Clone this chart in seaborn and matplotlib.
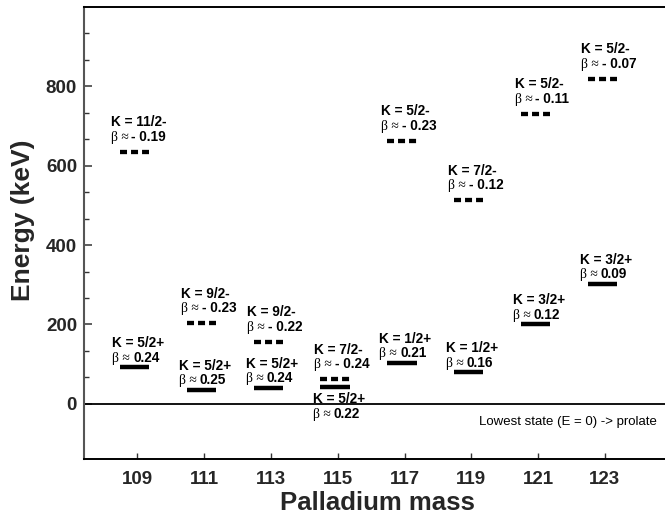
import matplotlib
matplotlib.use("Agg")
import matplotlib.pyplot as plt
import seaborn as sns
import numpy as np
import pandas as pd
from matplotlib.ticker import FixedLocator

# ---------------- data ----------------
masses = [109, 111, 113, 115, 117, 119, 121, 123]

neg_energy = [635, 203, 157, 62, 663, 513, 731, 819]
neg_K = ["11/2-", "9/2-", "9/2-", "7/2-", "5/2-", "7/2-", "5/2-", "5/2-"]
neg_beta = ["- 0.19", "- 0.23", "- 0.22", "- 0.24", "- 0.23", "- 0.12", "- 0.11", "- 0.07"]

pos_energy = [92, 35, 40, 42, 104, 80, 201, 302]
pos_K = ["5/2+", "5/2+", "5/2+", "5/2+", "1/2+", "1/2+", "3/2+", "3/2+"]
pos_beta = ["0.24", "0.25", "0.24", "0.22", "0.21", "0.16", "0.12", "0.09"]

y_major = [0, 200, 400, 600, 800]
note_text = "Lowest state (E = 0) -> prolate"

# ---------------- style ----------------
sns.set_theme(style="ticks")
plt.rcParams["font.family"] = ["Liberation Sans", "DejaVu Sans"]

W, H = 665, 516
fig = plt.figure(figsize=(W / 100, H / 100), dpi=100)
ax = fig.add_axes([84 / W, 1 - 459 / H, 1 - 84 / W + 0.01, (459 - 7) / H])

XOFF = -0.08      # bars sit slightly left of ticks
HW = 0.4394       # half bar width (data units)

neg = pd.DataFrame({"mass": masses, "E": neg_energy, "K": neg_K, "beta": neg_beta})
pos = pd.DataFrame({"mass": masses, "E": pos_energy, "K": pos_K, "beta": pos_beta})

ax.axhline(0, color="black", lw=1.3, zorder=1)

ax.hlines(neg["E"], neg["mass"] + XOFF - HW, neg["mass"] + XOFF + HW,
          colors="black", lw=3.1, linestyles=[(0, (1.63, 0.93))], zorder=3)
ax.hlines(pos["E"], pos["mass"] + XOFF - HW, pos["mass"] + XOFF + HW,
          colors="black", lw=3.2, linestyles="solid", zorder=3)

LINE = 14.5
KSIZE = 9.8
def put_label(xc, y, k, b, dy_k):
    kt = ax.annotate(f"K = {k}", xy=(xc, y), xytext=(3.5, dy_k),
                     textcoords="offset pixels", ha="center", va="baseline",
                     fontsize=KSIZE, fontweight="bold", color="black",
                     annotation_clip=False)
    bt = ax.annotate("β ≈", xy=(0, y), xycoords=(kt, "data"),
                     xytext=(0, dy_k - LINE), textcoords="offset pixels",
                     ha="left", va="baseline", fontsize=9.8,
                     family=["Liberation Serif", "DejaVu Serif"], color="black",
                     annotation_clip=False)
    ax.annotate(b, xy=(1, y), xycoords=(bt, "data"),
                xytext=(3, dy_k - LINE), textcoords="offset pixels",
                ha="left", va="baseline", fontsize=KSIZE, fontweight="bold",
                color="black", annotation_clip=False)

below_mass = 115
for _, r in neg.iterrows():
    put_label(r["mass"] + XOFF, r["E"], r["K"], r["beta"], 25.5)
for _, r in pos.iterrows():
    if r["mass"] == below_mass:
        put_label(r["mass"] + XOFF, r["E"], r["K"], r["beta"], -16)
    else:
        put_label(r["mass"] + XOFF, r["E"], r["K"], r["beta"], 20)

ax.text(124.55, -45, note_text, ha="right", va="center", fontsize=9.5, color="black")

# ---------------- axes ----------------
ax.set_xlim(107.4, 125.0)
ax.set_ylim(-139, 1000)

ax.set_xticks(masses)
ax.set_xticklabels([str(m) for m in masses], fontsize=13.5, fontweight="bold")
ax.set_yticks(y_major)
ax.set_yticklabels([str(v) for v in y_major], fontsize=13.5, fontweight="bold")
minor = [v for v in np.arange(1, 15) * 200 / 3 if min(abs(v - m) for m in y_major) > 1]
ax.yaxis.set_minor_locator(FixedLocator(minor))

ax.tick_params(axis="y", which="major", direction="in", length=6, width=1.1,
               color="#333333", pad=5, left=True)
ax.tick_params(axis="y", which="minor", direction="in", length=3.3, width=1.0,
               color="#333333", left=True)
ax.tick_params(axis="x", which="major", direction="in", length=4.5, width=1.0,
               color="#333333", pad=9, bottom=True)

ax.set_xlabel("Palladium mass", fontsize=18.5, fontweight="bold", labelpad=2)
ax.set_ylabel("Energy (keV)", fontsize=19, fontweight="bold")
ax.yaxis.set_label_coords(-0.083, 0.529)

for s in ["top", "bottom"]:
    ax.spines[s].set_color("black")
    ax.spines[s].set_linewidth(1.4)
ax.spines["left"].set_color("#555555")
ax.spines["left"].set_linewidth(1.5)
ax.spines["right"].set_visible(False)
ax.set_facecolor("white")
fig.patch.set_facecolor("white")

fig.savefig("out.png", dpi=100, facecolor="white")
